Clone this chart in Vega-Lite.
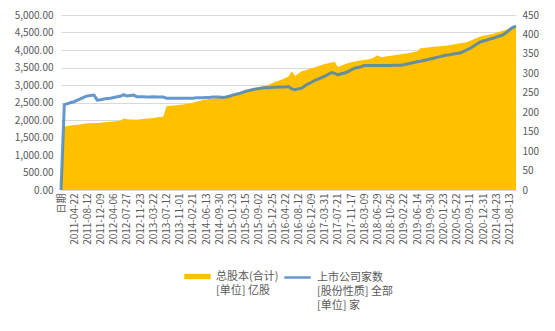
{
  "$schema": "https://vega.github.io/schema/vega-lite/v6.json",
  "width": 455,
  "height": 175,
  "padding": {"left": 14, "top": 10, "right": 10, "bottom": 5},
  "background": "white",
  "config": {
    "font": "Noto Sans CJK SC",
    "view": {"stroke": null},
    "style": {"guide-label": {"lineHeight": 14}},
    "axis": {"labelFont": "Noto Sans CJK SC", "labelColor": "#595959", "labelFontSize": 10, "ticks": false, "title": null},
    "legend": {"layout": {"bottom": {"anchor": "middle", "direction": "horizontal", "margin": 4, "bounds": "full"}}}
  },
  "data": {"values": [
    {"date":"日期","shares":0,"companies":0},
    {"date":"2011-01-28","shares":1815,"companies":219},
    {"date":"2011-02-25","shares":1830,"companies":222},
    {"date":"2011-03-25","shares":1845,"companies":225},
    {"date":"2011-04-22","shares":1857,"companies":227},
    {"date":"2011-05-20","shares":1866,"companies":231},
    {"date":"2011-06-17","shares":1878,"companies":235},
    {"date":"2011-07-15","shares":1890,"companies":239},
    {"date":"2011-08-12","shares":1905,"companies":242},
    {"date":"2011-09-09","shares":1908,"companies":243},
    {"date":"2011-10-14","shares":1912,"companies":244},
    {"date":"2011-11-11","shares":1917,"companies":231},
    {"date":"2011-12-09","shares":1925,"companies":232},
    {"date":"2012-01-06","shares":1933,"companies":234},
    {"date":"2012-02-10","shares":1942,"companies":235},
    {"date":"2012-03-09","shares":1951,"companies":236},
    {"date":"2012-04-06","shares":1960,"companies":238},
    {"date":"2012-05-04","shares":1970,"companies":240},
    {"date":"2012-06-01","shares":1980,"companies":241},
    {"date":"2012-06-29","shares":2040,"companies":245},
    {"date":"2012-07-27","shares":2020,"companies":242},
    {"date":"2012-08-24","shares":2015,"companies":243},
    {"date":"2012-09-21","shares":2012,"companies":244},
    {"date":"2012-10-26","shares":2010,"companies":240},
    {"date":"2012-11-23","shares":2020,"companies":240},
    {"date":"2012-12-21","shares":2030,"companies":240},
    {"date":"2013-01-18","shares":2040,"companies":239},
    {"date":"2013-02-22","shares":2048,"companies":239},
    {"date":"2013-03-22","shares":2055,"companies":240},
    {"date":"2013-04-19","shares":2070,"companies":239},
    {"date":"2013-05-17","shares":2085,"companies":239},
    {"date":"2013-06-14","shares":2095,"companies":239},
    {"date":"2013-07-12","shares":2395,"companies":236},
    {"date":"2013-08-09","shares":2405,"companies":236},
    {"date":"2013-09-06","shares":2415,"companies":236},
    {"date":"2013-10-04","shares":2425,"companies":236},
    {"date":"2013-11-01","shares":2435,"companies":236},
    {"date":"2013-11-29","shares":2445,"companies":236},
    {"date":"2013-12-27","shares":2455,"companies":236},
    {"date":"2014-01-24","shares":2470,"companies":236},
    {"date":"2014-02-21","shares":2495,"companies":236},
    {"date":"2014-03-21","shares":2520,"companies":237},
    {"date":"2014-04-18","shares":2545,"companies":237},
    {"date":"2014-05-16","shares":2570,"companies":237},
    {"date":"2014-06-13","shares":2588,"companies":238},
    {"date":"2014-07-11","shares":2600,"companies":238},
    {"date":"2014-08-08","shares":2615,"companies":239},
    {"date":"2014-09-05","shares":2625,"companies":239},
    {"date":"2014-09-30","shares":2645,"companies":239},
    {"date":"2014-10-31","shares":2660,"companies":238},
    {"date":"2014-11-28","shares":2680,"companies":239},
    {"date":"2014-12-26","shares":2700,"companies":241},
    {"date":"2015-01-23","shares":2720,"companies":244},
    {"date":"2015-02-20","shares":2738,"companies":246},
    {"date":"2015-03-20","shares":2760,"companies":248},
    {"date":"2015-04-17","shares":2790,"companies":251},
    {"date":"2015-05-15","shares":2825,"companies":254},
    {"date":"2015-06-12","shares":2858,"companies":256},
    {"date":"2015-07-10","shares":2890,"companies":258},
    {"date":"2015-08-07","shares":2910,"companies":260},
    {"date":"2015-09-02","shares":2930,"companies":261},
    {"date":"2015-10-02","shares":2955,"companies":262},
    {"date":"2015-10-30","shares":2975,"companies":263},
    {"date":"2015-11-27","shares":3010,"companies":263},
    {"date":"2015-12-25","shares":3050,"companies":264},
    {"date":"2016-01-22","shares":3090,"companies":264},
    {"date":"2016-02-26","shares":3125,"companies":265},
    {"date":"2016-03-25","shares":3160,"companies":265},
    {"date":"2016-04-22","shares":3200,"companies":265},
    {"date":"2016-05-20","shares":3240,"companies":266},
    {"date":"2016-06-17","shares":3390,"companies":260},
    {"date":"2016-07-15","shares":3260,"companies":258},
    {"date":"2016-08-12","shares":3330,"companies":260},
    {"date":"2016-09-09","shares":3390,"companies":262},
    {"date":"2016-10-14","shares":3415,"companies":268},
    {"date":"2016-11-11","shares":3450,"companies":273},
    {"date":"2016-12-09","shares":3480,"companies":277},
    {"date":"2017-01-06","shares":3510,"companies":282},
    {"date":"2017-02-10","shares":3535,"companies":285},
    {"date":"2017-03-03","shares":3570,"companies":289},
    {"date":"2017-03-31","shares":3600,"companies":293},
    {"date":"2017-04-28","shares":3620,"companies":297},
    {"date":"2017-05-26","shares":3640,"companies":302},
    {"date":"2017-06-23","shares":3665,"companies":300},
    {"date":"2017-07-21","shares":3510,"companies":296},
    {"date":"2017-08-18","shares":3555,"companies":299},
    {"date":"2017-09-15","shares":3595,"companies":301},
    {"date":"2017-10-20","shares":3625,"companies":304},
    {"date":"2017-11-17","shares":3650,"companies":309},
    {"date":"2017-12-15","shares":3670,"companies":313},
    {"date":"2018-01-12","shares":3685,"companies":315},
    {"date":"2018-02-09","shares":3700,"companies":317},
    {"date":"2018-03-09","shares":3715,"companies":320},
    {"date":"2018-04-04","shares":3730,"companies":320},
    {"date":"2018-05-04","shares":3750,"companies":320},
    {"date":"2018-06-01","shares":3790,"companies":320},
    {"date":"2018-06-29","shares":3850,"companies":320},
    {"date":"2018-07-27","shares":3790,"companies":320},
    {"date":"2018-08-24","shares":3805,"companies":320},
    {"date":"2018-09-21","shares":3820,"companies":320},
    {"date":"2018-10-26","shares":3835,"companies":320},
    {"date":"2018-11-23","shares":3850,"companies":321},
    {"date":"2018-12-21","shares":3865,"companies":321},
    {"date":"2019-01-18","shares":3880,"companies":321},
    {"date":"2019-02-22","shares":3895,"companies":322},
    {"date":"2019-03-22","shares":3910,"companies":324},
    {"date":"2019-04-19","shares":3925,"companies":326},
    {"date":"2019-05-17","shares":3940,"companies":328},
    {"date":"2019-06-14","shares":3955,"companies":330},
    {"date":"2019-07-12","shares":4050,"companies":331},
    {"date":"2019-08-09","shares":4060,"companies":333},
    {"date":"2019-09-06","shares":4070,"companies":335},
    {"date":"2019-09-30","shares":4080,"companies":337},
    {"date":"2019-11-01","shares":4090,"companies":339},
    {"date":"2019-11-29","shares":4100,"companies":341},
    {"date":"2019-12-27","shares":4110,"companies":343},
    {"date":"2020-01-23","shares":4118,"companies":345},
    {"date":"2020-02-28","shares":4125,"companies":347},
    {"date":"2020-03-27","shares":4140,"companies":348},
    {"date":"2020-04-24","shares":4160,"companies":350},
    {"date":"2020-05-22","shares":4175,"companies":351},
    {"date":"2020-06-19","shares":4190,"companies":352},
    {"date":"2020-07-17","shares":4205,"companies":356},
    {"date":"2020-08-14","shares":4220,"companies":360},
    {"date":"2020-09-11","shares":4260,"companies":364},
    {"date":"2020-10-16","shares":4300,"companies":369},
    {"date":"2020-11-13","shares":4340,"companies":375},
    {"date":"2020-12-04","shares":4380,"companies":380},
    {"date":"2020-12-31","shares":4410,"companies":383},
    {"date":"2021-01-29","shares":4425,"companies":385},
    {"date":"2021-02-26","shares":4445,"companies":388},
    {"date":"2021-03-26","shares":4460,"companies":390},
    {"date":"2021-04-23","shares":4490,"companies":393},
    {"date":"2021-05-21","shares":4520,"companies":396},
    {"date":"2021-06-18","shares":4550,"companies":399},
    {"date":"2021-07-16","shares":4578,"companies":404},
    {"date":"2021-08-13","shares":4610,"companies":412},
    {"date":"2021-09-10","shares":4650,"companies":418},
    {"date":"2021-10-08","shares":4695,"companies":421}
  ]},
  "encoding": {
    "x": {
      "field": "date", "type": "ordinal", "sort": null,
      "scale": {"type": "point", "padding": 0},
      "axis": {
        "values": ["日期","2011-04-22","2011-08-12","2011-12-09","2012-04-06","2012-07-27","2012-11-23","2013-03-22","2013-07-12","2013-11-01","2014-02-21","2014-06-13","2014-09-30","2015-01-23","2015-05-15","2015-09-02","2015-12-25","2016-04-22","2016-08-12","2016-12-09","2017-03-31","2017-07-21","2017-11-17","2018-03-09","2018-06-29","2018-10-26","2019-02-22","2019-06-14","2019-09-30","2020-01-23","2020-05-22","2020-09-11","2020-12-31","2021-04-23","2021-08-13"],
        "labelAngle": -90, "labelOverlap": false, "labelPadding": 3,
        "domainColor": "#D9D9D9", "grid": false
      }
    }
  },
  "layer": [
    {
      "mark": {"type": "area", "opacity": 1, "interpolate": "linear"},
      "encoding": {
        "y": {
          "field": "shares", "type": "quantitative",
          "scale": {"domain": [0, 5000], "nice": false},
          "axis": {"values": [0,500,1000,1500,2000,2500,3000,3500,4000,4500,5000], "format": ",.2f", "grid": true, "gridColor": "#D9D9D9", "domain": false, "labelPadding": 8}
        },
        "fill": {
          "datum": "总股本(合计)",
          "scale": {"range": ["#FFC000"]},
          "legend": {
            "title": null, "orient": "bottom", "direction": "horizontal", "offset": 18,
            "symbolType": "M-1,-0.2H1V0.2H-1Z", "symbolSize": 700, "symbolStrokeWidth": 0,
            "labelFontSize": 11, "labelColor": "#595959", "labelOffset": 5,
            "labelExpr": "['总股本(合计)', '[单位] 亿股']"
          }
        }
      }
    },
    {
      "mark": {"type": "line", "strokeWidth": 3, "opacity": 0.8, "interpolate": "linear"},
      "encoding": {
        "y": {
          "field": "companies", "type": "quantitative",
          "scale": {"domain": [0, 450], "nice": false},
          "axis": {"orient": "right", "values": [0,50,100,150,200,250,300,350,400,450], "format": "d", "grid": false, "domain": false, "labelPadding": 6}
        },
        "stroke": {
          "datum": "上市公司家数",
          "scale": {"range": ["#3F7FC0"]},
          "legend": {
            "title": null, "orient": "bottom", "direction": "horizontal", "offset": 18,
            "symbolType": "stroke", "symbolSize": 700, "symbolStrokeWidth": 2.5,
            "labelFontSize": 11, "labelColor": "#595959", "labelOffset": 5,
            "labelExpr": "['上市公司家数', '[股份性质] 全部', '[单位] 家']"
          }
        }
      }
    }
  ],
  "resolve": {"scale": {"y": "independent"}}
}
